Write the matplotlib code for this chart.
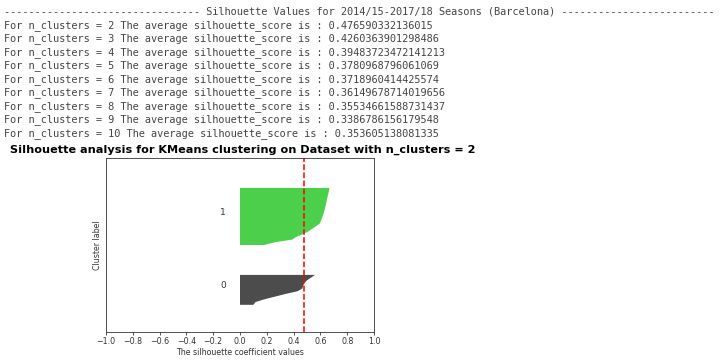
import numpy as np
import matplotlib
matplotlib.use("Agg")
import matplotlib.pyplot as plt
import matplotlib.cm as cm

## data
season_label = "Silhouette Values for 2014/15-2017/18 Seasons (Barcelona)"
n_clusters_range = [2, 3, 4, 5, 6, 7, 8, 9, 10]
avg_scores = [0.476590332136015, 0.4260363901298486, 0.39483723472141213,
              0.3780968796061069, 0.3718960414425574, 0.36149678714019656,
              0.35534661588731437, 0.3386786156179548, 0.353605138081335]

n_clusters = 2
silhouette_avg = avg_scores[0]
# sorted silhouette values per cluster (bottom -> top)
cluster0_vals = [0.10, 0.115, 0.18, 0.26, 0.34, 0.43, 0.465, 0.472, 0.48, 0.50, 0.53, 0.56]
cluster1_vals = [0.18, 0.26, 0.39, 0.42, 0.47, 0.51, 0.54, 0.57, 0.597, 0.605, 0.612,
                 0.62, 0.626, 0.632, 0.637, 0.642, 0.646, 0.65, 0.655, 0.66, 0.664, 0.668]
cluster_vals = [cluster0_vals, cluster1_vals]
x_ticks = [-1, -0.8, -0.6, -0.4, -0.2, 0, 0.2, 0.4, 0.6, 0.8, 1]

fig = plt.figure(figsize=(7.2, 3.6), dpi=100)

# printed output above the plot
mono = dict(family="DejaVu Sans Mono", fontsize=7.4, color="#444444", va="center")
fig.text(4/720, 1 - 12/360, "-"*32 + " " + season_label + " " + "-"*25, **mono)
for i, (n, s) in enumerate(zip(n_clusters_range, avg_scores)):
    fig.text(4/720, 1 - (25.5 + i*13.5)/360,
             "For n_clusters = " + str(n) + " The average silhouette_score is : " + str(s), **mono)

fig.text(10/720, 1 - 150/360,
         "Silhouette analysis for KMeans clustering on Dataset with n_clusters = " + str(n_clusters),
         fontsize=8.1, fontweight="bold", va="center", ha="left")

ax1 = fig.add_axes([106/720, 28/360, 268/720, 174/360])
n_samples = sum(len(v) for v in cluster_vals)
ax1.set_xlim([-1, 1])
ax1.set_ylim([0, n_samples + (n_clusters + 1) * 10])

y_lower = 10
for i in range(n_clusters):
    vals = np.array(cluster_vals[i])
    size_cluster_i = vals.shape[0]
    y_upper = y_lower + size_cluster_i
    color = cm.nipy_spectral(float(i) / n_clusters)
    ax1.fill_betweenx(np.arange(y_lower, y_upper), 0, vals,
                      facecolor=color, linewidth=0, alpha=0.7)
    ax1.text(-0.15, y_lower + 0.5 * size_cluster_i, str(i), fontsize=6.5, color="#333333")
    y_lower = y_upper + 10

ax1.set_xlabel("The silhouette coefficient values", fontsize=5.7, labelpad=1.5, color="#333333")
ax1.set_ylabel("Cluster label", fontsize=5.7, labelpad=3, color="#333333")
ax1.axvline(x=silhouette_avg, color="red", linestyle="--", lw=1.1)
ax1.set_yticks([])
ax1.set_xticks(x_ticks)
ax1.tick_params(labelsize=5.7, length=2, width=0.6, pad=1.5, colors="#333333")
for sp in ax1.spines.values():
    sp.set_linewidth(0.6)
    sp.set_color("#333333")

fig.savefig("out.png", dpi=100)
